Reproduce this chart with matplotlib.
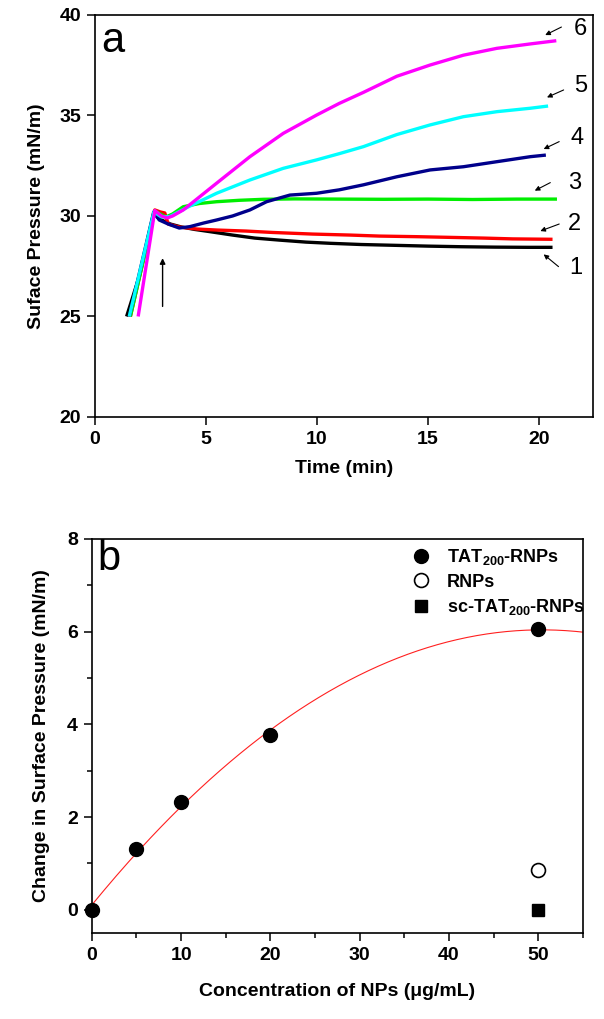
import matplotlib
matplotlib.use("Agg")
import matplotlib.pyplot as plt
import numpy as np

plt.rcParams['font.family'] = ['Liberation Sans', 'DejaVu Sans']
plt.rcParams['font.weight'] = 'bold'
plt.rcParams['mathtext.fontset'] = 'custom'
plt.rcParams['mathtext.bf'] = 'Liberation Sans:bold'
plt.rcParams['mathtext.rm'] = 'Liberation Sans:bold'
plt.rcParams['mathtext.default'] = 'bf'

# ---- panel a: surface pressure vs time
t1 = [1.43, 2.0, 2.65, 2.9, 3.4, 3.9, 4.5, 5.3, 6.2, 7.2, 8.3, 9.5, 10.6, 12.0, 13.5, 15.0, 16.5, 18.0, 19.5, 20.6]
p1 = [25.0, 27.0, 30.13, 29.85, 29.6, 29.45, 29.33, 29.2, 29.05, 28.9, 28.8, 28.7, 28.64, 28.58, 28.54, 28.5, 28.47, 28.45, 28.44, 28.44]

t2 = [1.6, 2.7, 2.95, 3.15, 3.3, 3.8, 4.6, 5.5, 6.8, 8.0, 9.8, 11.5, 12.8, 14.5, 15.8, 17.5, 18.8, 20.6]
p2 = [25.0, 30.3, 30.2, 30.15, 29.6, 29.45, 29.35, 29.3, 29.25, 29.18, 29.1, 29.05, 29.0, 28.97, 28.94, 28.9, 28.86, 28.84]

t3 = [1.6, 2.7, 3.2, 3.5, 3.98, 4.7, 5.48, 6.5, 7.6, 9.0, 11.0, 13.0, 15.0, 17.0, 19.0, 20.8]
p3 = [25.0, 30.25, 29.95, 30.1, 30.46, 30.62, 30.71, 30.78, 30.83, 30.85, 30.84, 30.83, 30.84, 30.82, 30.84, 30.84]

t4 = [1.55, 2.65, 2.9, 3.3, 3.8, 4.28, 4.9, 5.48, 6.2, 6.98, 7.73, 8.78, 9.98, 11.0, 12.09, 13.59, 15.09, 16.59, 18.09, 19.6, 20.3]
p4 = [25.0, 30.2, 29.8, 29.6, 29.4, 29.47, 29.65, 29.8, 30.0, 30.3, 30.71, 31.04, 31.13, 31.3, 31.55, 31.95, 32.29, 32.45, 32.7, 32.95, 33.03]

t5 = [1.55, 2.66, 3.0, 3.38, 4.2, 5.48, 6.98, 8.48, 9.98, 11.0, 12.09, 13.59, 15.09, 16.59, 18.1, 19.6, 20.4]
p5 = [25.0, 30.2, 29.95, 29.97, 30.45, 31.13, 31.79, 32.37, 32.79, 33.1, 33.45, 34.05, 34.53, 34.94, 35.19, 35.36, 35.47]

t6 = [1.95, 2.7, 3.0, 3.25, 3.5, 3.98, 4.6, 5.48, 6.98, 8.48, 9.98, 11.0, 12.09, 13.59, 15.09, 16.59, 18.09, 19.6, 20.77]
p6 = [25.0, 30.27, 30.0, 29.9, 30.0, 30.3, 30.85, 31.63, 32.95, 34.11, 35.02, 35.6, 36.15, 36.95, 37.51, 38.0, 38.34, 38.56, 38.72]

curve_colors = ['#000000', '#ff0000', '#00ee00', '#00008b', '#00ffff', '#ff00ff']
curve_labels = ['1', '2', '3', '4', '5', '6']
label_xy = [(21.35, 27.4), (21.3, 29.6), (21.28, 31.66), (21.4, 33.86), (21.55, 36.47), (21.55, 39.3)]
arrow_tail = [(20.87, 27.48), (20.9, 29.6), (20.5, 31.66), (20.9, 33.7), (21.1, 36.27), (21.0, 39.4)]
arrow_head = [(20.2, 28.09), (20.05, 29.25), (19.8, 31.26), (20.2, 33.33), (20.35, 35.9), (20.27, 39.0)]

# ---- panel b: change in surface pressure vs concentration
conc = [0, 5, 10, 20, 50]
dp_tat = [0.0, 1.32, 2.32, 3.78, 6.05]
conc_rnp = [50]
dp_rnp = [0.85]
conc_sc = [50]
dp_sc = [0.0]

fig = plt.figure(figsize=(6.04, 10.19), dpi=100)
ax1 = fig.add_axes([0.157, 0.5908, 0.824, 0.3945])
ax2 = fig.add_axes([0.152, 0.0844, 0.813, 0.3867])

times = [t1, t2, t3, t4, t5, t6]
press = [p1, p2, p3, p4, p5, p6]
for t, p, c in zip(times, press, curve_colors):
    ax1.plot(t, p, color=c, lw=2.4, solid_capstyle='butt')

for lab, xy, tail, head in zip(curve_labels, label_xy, arrow_tail, arrow_head):
    ax1.text(xy[0], xy[1], lab, fontsize=17, fontweight='normal', ha='left', va='center')
    ax1.annotate('', xy=head, xytext=tail,
                 arrowprops=dict(arrowstyle='-|>', color='black', lw=0.8,
                                 mutation_scale=7, shrinkA=0, shrinkB=0))

# injection arrow
ax1.annotate('', xy=(3.05, 27.9), xytext=(3.05, 25.5),
             arrowprops=dict(arrowstyle='-|>', color='black', lw=1.0,
                             mutation_scale=8, shrinkA=0, shrinkB=0))

ax1.set_xlim(0, 22.4)
ax1.set_ylim(20, 40)
ax1.set_xticks([0, 5, 10, 15, 20])
ax1.set_yticks([20, 25, 30, 35, 40])
ax1.set_xlabel('Time (min)', fontsize=14, fontweight='bold', labelpad=9)
ax1.set_ylabel('Suface Pressure (mN/m)', fontsize=14, fontweight='bold', labelpad=10)
ax1.text(0.012, 0.985, 'a', transform=ax1.transAxes, fontsize=30,
         fontweight='normal', ha='left', va='top')

# fitted curve (2nd order polynomial through TAT points)
coef = np.polyfit(conc, dp_tat, 2)
xf = np.linspace(0, 55, 200)
ax2.plot(xf, np.polyval(coef, xf), color='#ff2020', lw=0.8)

ax2.plot(conc, dp_tat, 'o', color='black', ms=10, label=r'TAT$_{200}$-RNPs', clip_on=False, zorder=3)
ax2.plot(conc_rnp, dp_rnp, 'o', mfc='white', mec='black', mew=1.2, ms=10, label='RNPs', zorder=3)
ax2.plot(conc_sc, dp_sc, 's', color='black', ms=9, label=r'sc-TAT$_{200}$-RNPs', zorder=3)

ax2.set_xlim(0, 55)
ax2.set_ylim(-0.5, 8)
ax2.set_xticks([0, 10, 20, 30, 40, 50])
ax2.set_xticks([5, 15, 25, 35, 45, 55], minor=True)
ax2.set_yticks([0, 2, 4, 6, 8])
ax2.set_yticks([1, 3, 5, 7], minor=True)
ax2.set_xlabel('Concentration of NPs (\u03bcg/mL)', fontsize=14, fontweight='bold', labelpad=14)
ax2.set_ylabel('Change in Surface Pressure (mN/m)', fontsize=14, fontweight='bold', labelpad=12)
ax2.text(0.012, 1.0, 'b', transform=ax2.transAxes, fontsize=30,
         fontweight='normal', ha='left', va='top')
leg = ax2.legend(loc='upper right', bbox_to_anchor=(1.037, 1.02), frameon=False,
                 handletextpad=0.45, labelspacing=0.35,
                 prop={'weight': 'bold', 'size': 13})

for ax in (ax1, ax2):
    for s in ax.spines.values():
        s.set_linewidth(1.2)
    ax.tick_params(which='major', direction='out', length=6, width=1.1, labelsize=14, pad=4)
    ax.tick_params(which='minor', direction='out', length=3.5, width=1.1)
    for lab in ax.get_xticklabels() + ax.get_yticklabels():
        lab.set_fontweight('bold')

fig.savefig('out.png', dpi=100)
